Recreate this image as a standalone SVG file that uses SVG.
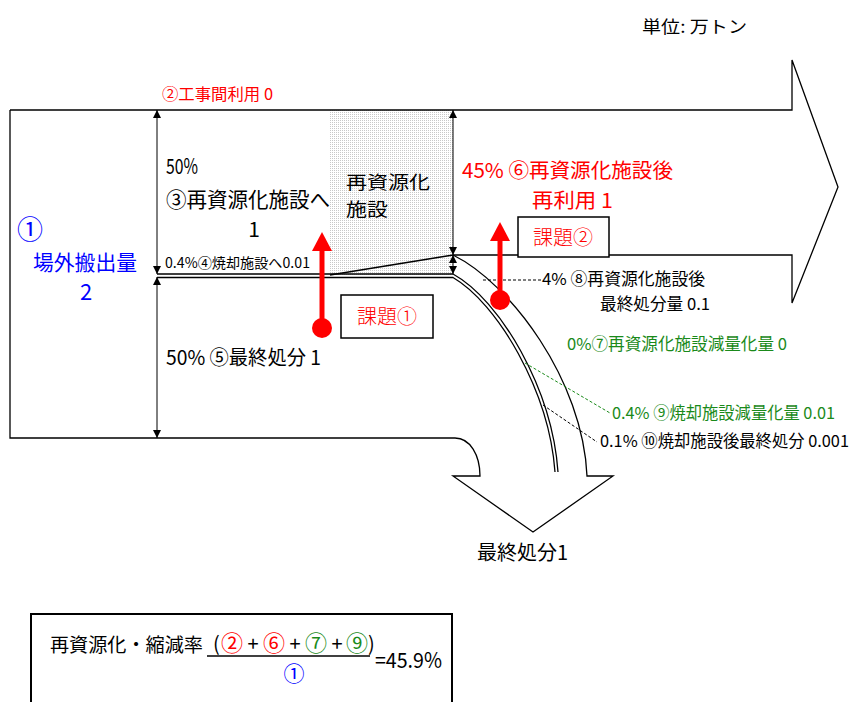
<svg xmlns="http://www.w3.org/2000/svg" width="853" height="702" viewBox="0 0 853 702">
<style>
text{font-family:"Noto Sans CJK JP","Liberation Sans",sans-serif;}
.r{fill:#ff0000;}
.b{fill:#0000ff;}
.g{fill:#1a8a1a;}
.ln{fill:none;stroke:#000;stroke-width:1.3;}
.dim{stroke:#000;stroke-width:1;marker-start:url(#ah);marker-end:url(#ah);}
.dash{fill:none;stroke:#000;stroke-width:1;stroke-dasharray:3,2;}
.dashg{fill:none;stroke:#1a8a1a;stroke-width:1;stroke-dasharray:3,2;}
.red{stroke:#ff0000;stroke-width:5;fill:none;}
</style>
<defs>
<marker id="ah" viewBox="0 0 8 8" refX="8" refY="4" markerWidth="8" markerHeight="8" markerUnits="userSpaceOnUse" orient="auto-start-reverse">
<path d="M0,0 L8,4 L0,8 z" fill="#000"/>
</marker>
<pattern id="dots" width="2" height="2" patternUnits="userSpaceOnUse">
<rect width="2" height="2" fill="#fff"/>
<rect width="1" height="1" fill="#c8c8c8"/>
</pattern>
</defs>
<rect width="853" height="702" fill="#fff"/>

<!-- shaded recycling facility area -->
<g id="facility">
<rect x="330" y="110" width="123" height="166" fill="url(#dots)"/>
<text x="346" y="189" font-size="18.5" textLength="84" lengthAdjust="spacingAndGlyphs">再資源化</text>
<text x="346" y="216" font-size="18.5" textLength="42" lengthAdjust="spacingAndGlyphs">施設</text>
</g>

<!-- flow outlines -->
<g id="connectors">
<path class="ln" d="M10,110 L792,110 L792,60 L838,187 L792,303 L792,255 L453,255"/>
<path class="ln" d="M10,110 L10,438 L455,438 C470,438 480,455 480,476 L453,476 L533,532 L613,476 L587,476 C583,380 510,283 453,255"/>
<path class="ln" d="M157,274 L453,274 C500,300 552,388 558,472"/>
<path class="ln" d="M157,277.5 L453,277.5 C497,303 549,390 555,472"/>
<path class="ln" d="M330,275 L453,255"/>
<line class="dim" x1="157" y1="110" x2="157" y2="274"/>
<line class="dim" x1="157" y1="277" x2="157" y2="438"/>
<line class="dim" x1="453" y1="110" x2="453" y2="255"/>
<line class="dim" x1="453" y1="255" x2="453" y2="274"/>
<line class="dash" x1="483" y1="280" x2="541" y2="280"/>
<line class="dashg" x1="525" y1="363" x2="610" y2="413"/>
<line class="dash" x1="543" y1="405" x2="597" y2="442"/>
</g>

<!-- red issue arrows -->
<g id="issue1">
<line class="red" x1="322" y1="328" x2="322" y2="250"/>
<polygon points="322,232 312,251 332,251" fill="#ff0000"/>
<circle cx="322" cy="328" r="10" fill="#ff0000"/>
<rect x="341" y="295" width="92" height="43" fill="#fff" stroke="#000" stroke-width="1.5"/>
<text x="387" y="324" font-size="20" text-anchor="middle" class="r" font-weight="300">課題①</text>
</g>
<g id="issue2">
<line class="red" x1="500" y1="300" x2="500" y2="238"/>
<polygon points="500,222 490,241 510,241" fill="#ff0000"/>
<circle cx="500" cy="300" r="10" fill="#ff0000"/>
<rect x="518" y="217" width="91" height="40" fill="#fff" stroke="#000" stroke-width="1.5"/>
<text x="563" y="245" font-size="20" text-anchor="middle" class="r" font-weight="300">課題②</text>
</g>

<!-- labels -->
<g id="unit"><text x="642" y="33" font-size="17" textLength="105" lengthAdjust="spacingAndGlyphs">単位: 万トン</text></g>
<g id="n2"><text x="162" y="100" font-size="15.5" class="r" textLength="111" lengthAdjust="spacingAndGlyphs">②工事間利用  0</text></g>
<g id="n1">
<text x="30" y="239" font-size="26" class="b" text-anchor="middle">①</text>
<text x="33" y="270" font-size="21" class="b" textLength="104" lengthAdjust="spacingAndGlyphs">場外搬出量</text>
<text x="86" y="300" font-size="22" class="b" text-anchor="middle">2</text>
</g>
<g id="n3">
<text x="166" y="174" font-size="21" textLength="32" lengthAdjust="spacingAndGlyphs">50%</text>
<text x="166" y="207" font-size="21" textLength="164" lengthAdjust="spacingAndGlyphs">③再資源化施設へ</text>
<text x="254" y="237" font-size="21" text-anchor="middle">1</text>
</g>
<g id="n4"><text x="165" y="268" font-size="14" textLength="145" lengthAdjust="spacingAndGlyphs">0.4%④焼却施設へ0.01</text></g>
<g id="n5"><text x="166" y="365" font-size="20.5" textLength="155" lengthAdjust="spacingAndGlyphs">50% ⑤最終処分 1</text></g>
<g id="n6">
<text x="462" y="178" font-size="20.5" class="r" textLength="211" lengthAdjust="spacingAndGlyphs">45%  ⑥再資源化施設後</text>
<text x="532" y="208" font-size="20.5" class="r" textLength="81" lengthAdjust="spacingAndGlyphs">再利用  1</text>
</g>
<g id="n8">
<text x="542" y="285" font-size="16.5" textLength="163" lengthAdjust="spacingAndGlyphs">4% ⑧再資源化施設後</text>
<text x="600" y="310" font-size="16.5" textLength="110" lengthAdjust="spacingAndGlyphs">最終処分量 0.1</text>
</g>
<g id="n7"><text x="567" y="350" font-size="16.5" class="g" textLength="220" lengthAdjust="spacingAndGlyphs">0%⑦再資源化施設減量化量 0</text></g>
<g id="n9"><text x="612" y="419" font-size="16.5" class="g" textLength="223" lengthAdjust="spacingAndGlyphs">0.4% ⑨焼却施設減量化量 0.01</text></g>
<g id="n10"><text x="600" y="447" font-size="16.5" textLength="249" lengthAdjust="spacingAndGlyphs">0.1% ⑩焼却施設後最終処分 0.001</text></g>
<g id="final"><text x="477" y="560" font-size="20" textLength="91" lengthAdjust="spacingAndGlyphs">最終処分1</text></g>

<!-- formula box -->
<g id="formula">
<rect x="31" y="614" width="421" height="100" fill="#fff" stroke="#000" stroke-width="2"/>
<text x="50" y="652" font-size="19" textLength="153" lengthAdjust="spacingAndGlyphs">再資源化・縮減率</text>
<text x="213" y="651" font-size="20">(</text>
<text x="232" y="651" font-size="22" class="r" text-anchor="middle">②</text>
<text x="253" y="651" font-size="20" text-anchor="middle">+</text>
<text x="274" y="651" font-size="22" class="r" text-anchor="middle">⑥</text>
<text x="295" y="651" font-size="20" text-anchor="middle">+</text>
<text x="316" y="651" font-size="22" class="g" text-anchor="middle">⑦</text>
<text x="337" y="651" font-size="20" text-anchor="middle">+</text>
<text x="357" y="651" font-size="22" class="g" text-anchor="middle">⑨</text>
<text x="368" y="651" font-size="20">)</text>
<line x1="207" y1="656" x2="370" y2="656" stroke="#000" stroke-width="1.3"/>
<text x="294" y="681" font-size="21" class="b" text-anchor="middle">①</text>
<text x="375" y="668" font-size="21" textLength="67" lengthAdjust="spacingAndGlyphs">=45.9%</text>
</g>
</svg>
